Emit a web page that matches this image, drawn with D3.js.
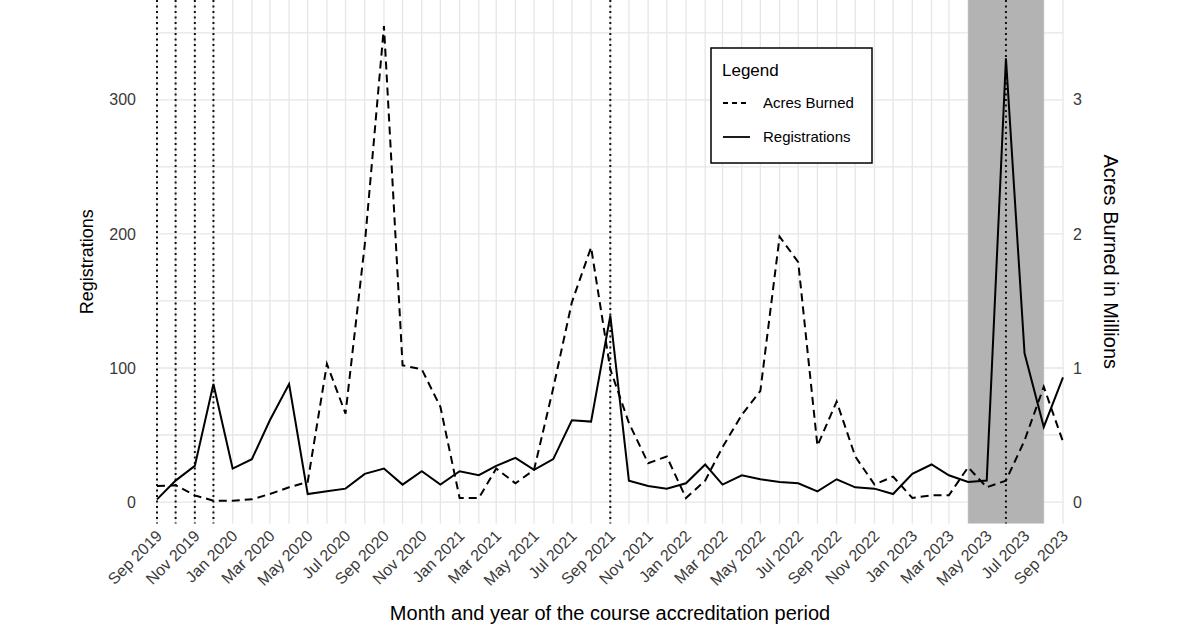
<!DOCTYPE html>
<html>
<head>
<meta charset="utf-8">
<script src="https://cdn.jsdelivr.net/npm/d3@7"></script>
<style>
  body { margin: 0; background: #fff; }
  text { font-family: "Liberation Sans", Arial, sans-serif; }
</style>
</head>
<body>
<svg id="chart" width="1200" height="628"></svg>
<script>
//------------- data -------------//
const firstMonth = "2019-09-01";
const lastMonth = "2023-09-01";
// monthly registrations, Sep 2019 .. Sep 2023
const registrations = [2, 16, 27, 88, 25, 32, 61, 88, 6, 8, 10, 21, 25, 13, 23, 13,
  23, 20, 27, 33, 24, 32, 61, 60, 139, 16, 12, 10, 14, 28, 13, 20,
  17, 15, 14, 8, 17, 11, 10, 6, 21, 28, 20, 15, 16, 331, 111, 56, 93];
// monthly acres burned (millions), Sep 2019 .. Sep 2023
const acresBurned = [0.12, 0.125, 0.05, 0.01, 0.01, 0.02, 0.06, 0.11, 0.15, 1.03, 0.66, 1.92, 3.55, 1.02, 0.99, 0.71,
  0.03, 0.03, 0.25, 0.14, 0.24, 0.85, 1.49, 1.9, 0.99, 0.59, 0.29, 0.34, 0.03, 0.16, 0.41, 0.65,
  0.83, 1.98, 1.79, 0.42, 0.75, 0.34, 0.13, 0.19, 0.03, 0.05, 0.05, 0.26, 0.11, 0.16, 0.46, 0.86, 0.45];
const leftTicks = [0, 100, 200, 300];
const rightTicks = [0, 1, 2, 3];
const markerMonths = ["2019-09-01", "2019-10-01", "2019-11-01", "2019-12-01", "2021-09-01", "2023-06-01"];
const shadeMonths = ["2023-04-01", "2023-08-01"];
const legendLabels = ["Acres Burned", "Registrations"];

//------------- setup -------------//
const svg = d3.select("#chart");
const parse = d3.timeParse("%Y-%m-%d");
const months = d3.timeMonth.range(parse(firstMonth), d3.timeMonth.offset(parse(lastMonth), 1));

const plotLeft = 157, plotRight = 1063, plotTop = 0, plotBottom = 523.5;

const x = d3.scaleTime().domain([parse(firstMonth), parse(lastMonth)]).range([plotLeft, plotRight]);
const y = d3.scaleLinear().domain([-16, 374.5]).range([plotBottom, plotTop]);
const yRight = d3.scaleLinear().domain([-0.16, 3.745]).range([plotBottom, plotTop]);

// grid
const grid = svg.append("g");
grid.selectAll("line.h")
  .data(d3.range(0, 351, 50))
  .join("line")
  .attr("x1", plotLeft).attr("x2", plotRight)
  .attr("y1", d => y(d)).attr("y2", d => y(d))
  .attr("stroke", "#e6e6e6").attr("stroke-width", 1.3);
grid.selectAll("line.v")
  .data(months)
  .join("line")
  .attr("x1", d => x(d)).attr("x2", d => x(d))
  .attr("y1", plotTop).attr("y2", plotBottom)
  .attr("stroke", "#e6e6e6").attr("stroke-width", 1.3);

// shaded period
svg.append("rect")
  .attr("x", x(parse(shadeMonths[0])))
  .attr("y", plotTop)
  .attr("width", x(parse(shadeMonths[1])) - x(parse(shadeMonths[0])))
  .attr("height", plotBottom - plotTop)
  .attr("fill", "#b3b3b3");

// dotted markers
svg.selectAll("line.marker")
  .data(markerMonths.map(parse))
  .join("line")
  .attr("x1", d => x(d)).attr("x2", d => x(d))
  .attr("y1", plotTop).attr("y2", plotBottom)
  .attr("stroke", "#111").attr("stroke-width", 2)
  .attr("stroke-dasharray", "2,3.5");

// lines
const regLine = d3.line().x((d, i) => x(months[i])).y(d => y(d));
const acresLine = d3.line().x((d, i) => x(months[i])).y(d => yRight(d));

svg.append("path")
  .datum(acresBurned)
  .attr("d", acresLine)
  .attr("fill", "none").attr("stroke", "#000").attr("stroke-width", 2)
  .attr("stroke-dasharray", "8,5");

svg.append("path")
  .datum(registrations)
  .attr("d", regLine)
  .attr("fill", "none").attr("stroke", "#000").attr("stroke-width", 2);

//------------- axes -------------//
svg.selectAll("text.lt")
  .data(leftTicks)
  .join("text")
  .attr("x", 136).attr("y", d => y(d)).attr("dy", "0.35em")
  .attr("text-anchor", "end")
  .attr("font-size", 16).attr("fill", "#3a3a3a")
  .text(d => d);

svg.selectAll("text.rt")
  .data(rightTicks)
  .join("text")
  .attr("x", 1073).attr("y", d => yRight(d)).attr("dy", "0.35em")
  .attr("font-size", 16).attr("fill", "#3a3a3a")
  .text(d => d);

const fmt = d3.timeFormat("%b %Y");
svg.selectAll("text.xt")
  .data(months.filter((d, i) => i % 2 === 0))
  .join("text")
  .attr("transform", d => `translate(${x(d) + 6},${537}) rotate(-45)`)
  .attr("text-anchor", "end")
  .attr("font-size", 16).attr("fill", "#3a3a3a")
  .text(d => fmt(d));

svg.append("text")
  .attr("x", 610).attr("y", 620)
  .attr("text-anchor", "middle").attr("font-size", 20)
  .text("Month and year of the course accreditation period");

svg.append("text")
  .attr("transform", `translate(93,${(plotTop + plotBottom) / 2}) rotate(-90)`)
  .attr("text-anchor", "middle").attr("font-size", 18)
  .text("Registrations");

svg.append("text")
  .attr("transform", `translate(1104,${(plotTop + plotBottom) / 2}) rotate(90)`)
  .attr("text-anchor", "middle").attr("font-size", 20)
  .text("Acres Burned in Millions");

//------------- legend -------------//
const legend = svg.append("g").attr("transform", "translate(711,48)");
legend.append("rect")
  .attr("width", 161).attr("height", 115)
  .attr("fill", "#fff").attr("stroke", "#000").attr("stroke-width", 1.5);
legend.append("text")
  .attr("x", 11).attr("y", 28).attr("font-size", 17)
  .text("Legend");
legend.selectAll("line.key")
  .data(legendLabels)
  .join("line")
  .attr("x1", 12).attr("x2", 39)
  .attr("y1", (d, i) => 55 + i * 34).attr("y2", (d, i) => 55 + i * 34)
  .attr("stroke", "#000").attr("stroke-width", 1.8)
  .attr("stroke-dasharray", (d, i) => i === 0 ? "5,4" : null);
legend.selectAll("text.key")
  .data(legendLabels)
  .join("text")
  .attr("x", 52).attr("y", (d, i) => 55 + i * 34).attr("dy", "0.35em")
  .attr("font-size", 15)
  .text(d => d);
</script>
</body>
</html>
